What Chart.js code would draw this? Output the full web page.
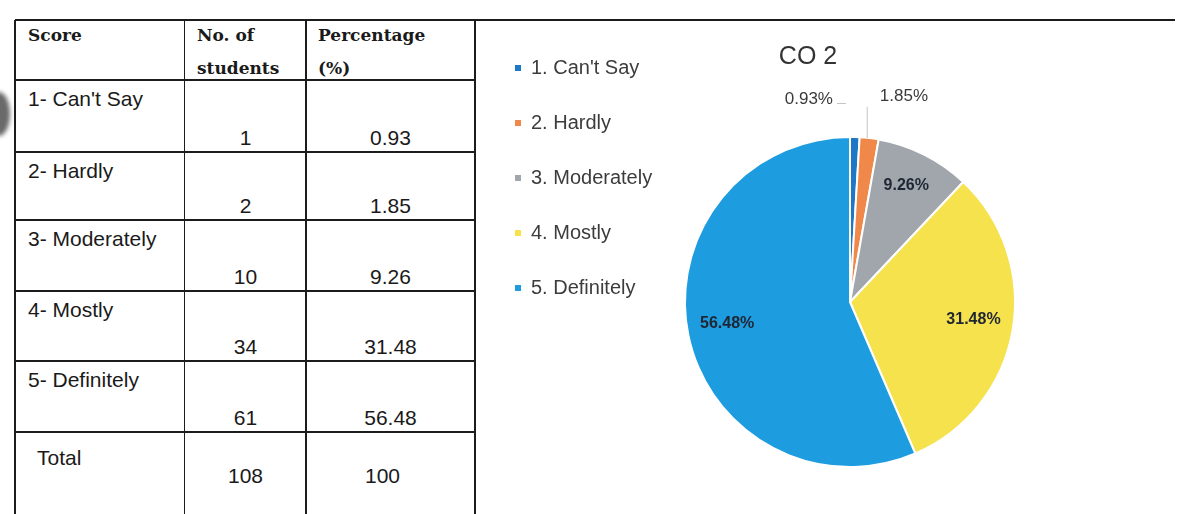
<!DOCTYPE html>
<html>
<head>
<meta charset="utf-8">
<script src="https://cdn.jsdelivr.net/npm/chart.js@4.4.0/dist/chart.umd.min.js"></script>
<style>
  html, body { margin: 0; padding: 0; background: #fff; }
  body { width: 1181px; height: 514px; position: relative; overflow: hidden; font-family: "Liberation Sans", Arial, sans-serif; color: #1a1a1a; }
  .linha { position: absolute; background: #1c1c1c; }
  .txt { position: absolute; white-space: nowrap; font-size: 21px; line-height: 21px; }
  .cab { position: absolute; white-space: nowrap; font-family: "DejaVu Serif", serif; font-weight: bold; font-size: 17px; line-height: 33px; color: #1a1a1a; }
  .num { text-align: center; }
  #mancha { position: absolute; left: -12px; top: 92px; width: 22px; height: 44px; border-radius: 50%; background: #6a6a6a; filter: blur(2px); }
  #caixa_grafico { position: absolute; left: 480px; top: 20px; width: 701px; height: 494px; }
</style>
</head>
<body>
<div id="mancha"></div>
<div id="tabela"></div>
<div id="caixa_grafico"><canvas id="co2"></canvas></div>
<script>

// dados
const pontuacoes = ["1- Can't Say", '2- Hardly', '3- Moderately', '4- Mostly', '5- Definitely'];
const legendas = ["1. Can't Say", '2. Hardly', '3. Moderately', '4. Mostly', '5. Definitely'];
const num_alunos = [1, 2, 10, 34, 61];
const percentagens = [0.93, 1.85, 9.26, 31.48, 56.48];
const total_alunos = 108;
const total_percentagem = 100;
const cabecalhos = ['Score', 'No. of<br>students', 'Percentage<br>(%)'];

const cores = ['#1f78c6', '#ef8848', '#a1a5ac', '#f5e24c', '#1e9ce0'];

// layout da tabela
const linhas_y = [20, 80, 152, 220, 291, 361, 432];
const colunas_x = [15, 185, 306, 475];

const tabela = document.getElementById('tabela');

function linha(x, y, w, h) {
    var d = document.createElement('div');
    d.className = 'linha';
    d.style.left = x + 'px';
    d.style.top = y + 'px';
    d.style.width = w + 'px';
    d.style.height = h + 'px';
    tabela.appendChild(d);
}

function texto(classe, html, x, topo, largura) {
    var d = document.createElement('div');
    d.className = classe;
    d.innerHTML = html;
    d.style.left = x + 'px';
    d.style.top = topo + 'px';
    if (largura) d.style.width = largura + 'px';
    tabela.appendChild(d);
}

function montar_tabela() {
    // linhas horizontais
    linha(15, 19, 1160, 2);
    for (var i = 1; i < linhas_y.length; i++) {
        linha(15, linhas_y[i] - 1, 460, 2);
    }
    // linhas verticais
    for (var j = 0; j < colunas_x.length; j++) {
        linha(colunas_x[j] - 1, 20, j == 1 ? 1 : 2, 494);
    }

    // cabeçalho
    texto('cab', cabecalhos[0], 28, 19);
    texto('cab', cabecalhos[1], 197, 19);
    texto('cab', cabecalhos[2], 318, 19);

    for (var k = 0; k < pontuacoes.length; k++) {
        var topo = linhas_y[k + 1];
        var fundo = linhas_y[k + 2];
        texto('txt', pontuacoes[k], 28, topo + 8);
        texto('txt num', String(num_alunos[k]), colunas_x[1], fundo - 25, colunas_x[2] - colunas_x[1]);
        texto('txt num', percentagens[k].toFixed(2), colunas_x[2], fundo - 25, colunas_x[3] - colunas_x[2]);
    }

    texto('txt', 'Total', 37, 447);
    texto('txt num', String(total_alunos), colunas_x[1], 465, colunas_x[2] - colunas_x[1]);
    texto('txt num', String(total_percentagem), colunas_x[2] - 8, 465, colunas_x[3] - colunas_x[2]);
}

montar_tabela();

// rótulos de percentagem sobre as fatias
const plugin_rotulos = {
    id: 'rotulos',
    afterDatasetsDraw(chart) {
        const ctx = chart.ctx;
        const meta = chart.getDatasetMeta(0);
        meta.data.forEach(function (arco, i) {
            const p = arco.getProps(['x', 'y', 'startAngle', 'endAngle', 'outerRadius'], true);
            const meio = (p.startAngle + p.endAngle) / 2;
            const texto_rotulo = percentagens[i].toFixed(2) + '%';
            ctx.save();
            ctx.textBaseline = 'middle';
            if (percentagens[i] < 5) {
                const ax = p.x + Math.cos(meio) * p.outerRadius * 1.24;
                const ay = p.y + Math.sin(meio) * p.outerRadius * 1.24;
                ctx.font = '17px "Liberation Sans", Arial, sans-serif';
                ctx.fillStyle = '#3a3a3a';
                ctx.strokeStyle = '#c4c4c4';
                ctx.lineWidth = 1;
                if (i == 0) {
                    ctx.textAlign = 'right';
                    ctx.fillText(texto_rotulo, ax - 23, ay + 2);
                    ctx.beginPath();
                    ctx.moveTo(ax - 19, ay + 6);
                    ctx.lineTo(ax - 10, ay + 6);
                    ctx.stroke();
                } else {
                    ctx.textAlign = 'left';
                    ctx.fillText(texto_rotulo, ax + 6, ay - 2);
                    const bx = p.x + Math.cos(meio) * p.outerRadius;
                    const by = p.y + Math.sin(meio) * p.outerRadius;
                    ctx.beginPath();
                    ctx.moveTo(bx - 2, by);
                    ctx.lineTo(bx - 2, ay + 8);
                    ctx.stroke();
                }
            } else {
                const r = p.outerRadius * 0.76;
                ctx.font = 'bold 16px "Liberation Sans", Arial, sans-serif';
                ctx.fillStyle = '#1f2633';
                ctx.textAlign = 'center';
                ctx.fillText(texto_rotulo, p.x + Math.cos(meio) * r, p.y + Math.sin(meio) * r - 4);
            }
            ctx.restore();
        });
    }
};

const grafico_co2 = document.getElementById('co2');

var myChart_co2 = new Chart(grafico_co2, {
    type: 'pie',
    data: {
        labels: legendas,
        datasets: [{
            data: percentagens,
            backgroundColor: cores,
            borderColor: '#ffffff',
            borderWidth: 2,
            radius: 165
        }]
    },
    options: {
        responsive: true,
        maintainAspectRatio: false,
        animation: false,
        layout: {
            padding: { left: 0, right: 45, top: 3, bottom: 49 }
        },
        plugins: {
            title: {
                display: true,
                text: 'CO 2',
                color: '#333333',
                font: { family: '"Liberation Sans", Arial, sans-serif', size: 25, weight: 'normal' },
                padding: { top: 19, bottom: 67 }
            },
            legend: {
                position: 'left',
                align: 'start',
                maxWidth: 84,
                labels: {
                    usePointStyle: true,
                    pointStyle: 'rect',
                    boxWidth: 6,
                    boxHeight: 6,
                    padding: 35,
                    color: '#3c3c3c',
                    font: { family: '"Liberation Sans", Arial, sans-serif', size: 20 },
                    generateLabels: function (chart) {
                        var itens = Chart.overrides.pie.plugins.legend.labels.generateLabels(chart);
                        itens.forEach(function (it) { it.lineWidth = 0; it.strokeStyle = it.fillStyle; });
                        return itens;
                    }
                }
            },
            tooltip: { enabled: false }
        }
    },
    plugins: [plugin_rotulos]
});

// a legenda é mais estreita que o texto; desenha sem recortar
myChart_co2.legend.draw = function () { this._draw(); };
myChart_co2.draw();
</script>
</body>
</html>
